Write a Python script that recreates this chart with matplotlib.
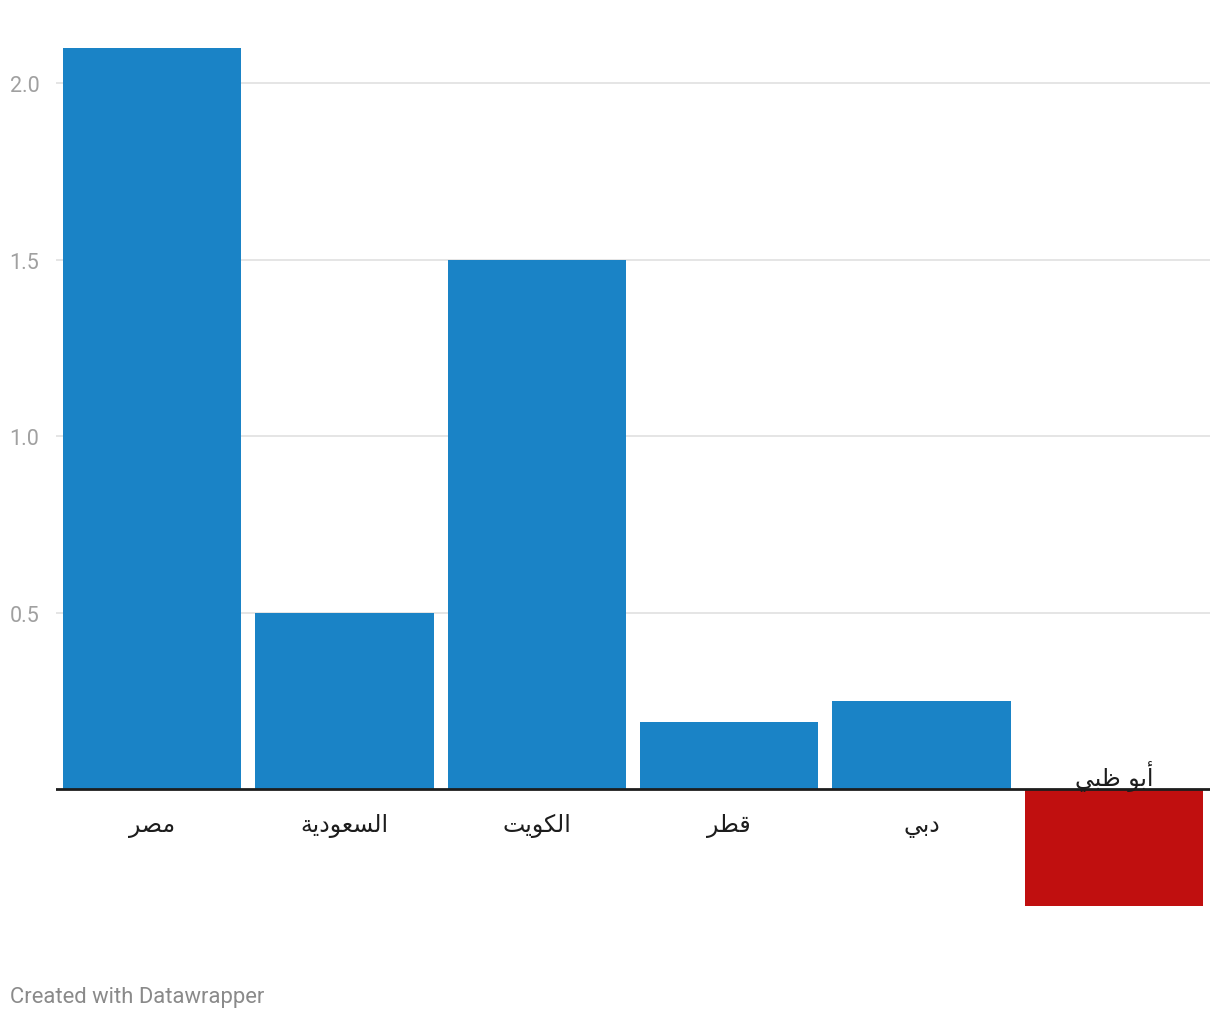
import matplotlib
matplotlib.use('Agg')
import matplotlib.pyplot as plt

plt.rcParams['font.family'] = ['Roboto', 'DejaVu Sans']

countries = ['مصر', 'السعودية', 'الكويت', 'قطر', 'دبي', 'أبو ظبي']
values = [2.1, 0.5, 1.5, 0.19, 0.25, -0.33]
yticks = [0.5, 1.0, 1.5, 2.0]

BLUE = '#1a83c6'
RED = '#c00f0f'

# arabic presentation forms: isolated, final, initial, medial
FORMS = {
    'ا': ('\uFE8D', '\uFE8E', None, None),
    'أ': ('\uFE83', '\uFE84', None, None),
    'ب': ('\uFE8F', '\uFE90', '\uFE91', '\uFE92'),
    'ة': ('\uFE93', '\uFE94', None, None),
    'ت': ('\uFE95', '\uFE96', '\uFE97', '\uFE98'),
    'د': ('\uFEA9', '\uFEAA', None, None),
    'ر': ('\uFEAD', '\uFEAE', None, None),
    'س': ('\uFEB1', '\uFEB2', '\uFEB3', '\uFEB4'),
    'ص': ('\uFEB9', '\uFEBA', '\uFEBB', '\uFEBC'),
    'ط': ('\uFEC1', '\uFEC2', '\uFEC3', '\uFEC4'),
    'ظ': ('\uFEC5', '\uFEC6', '\uFEC7', '\uFEC8'),
    'ع': ('\uFEC9', '\uFECA', '\uFECB', '\uFECC'),
    'ق': ('\uFED5', '\uFED6', '\uFED7', '\uFED8'),
    'ك': ('\uFED9', '\uFEDA', '\uFEDB', '\uFEDC'),
    'ل': ('\uFEDD', '\uFEDE', '\uFEDF', '\uFEE0'),
    'م': ('\uFEE1', '\uFEE2', '\uFEE3', '\uFEE4'),
    'و': ('\uFEED', '\uFEEE', None, None),
    'ي': ('\uFEF1', '\uFEF2', '\uFEF3', '\uFEF4'),
}


def shape(text):
    out = []
    for i, ch in enumerate(text):
        if ch not in FORMS:
            out.append(ch)
            continue
        prev = text[i - 1] if i > 0 else ''
        nxt = text[i + 1] if i + 1 < len(text) else ''
        join_prev = prev in FORMS and FORMS[prev][2] is not None
        join_next = FORMS[ch][2] is not None and nxt in FORMS
        iso, fin, ini, med = FORMS[ch]
        if join_prev and join_next:
            out.append(med)
        elif join_prev:
            out.append(fin)
        elif join_next:
            out.append(ini)
        else:
            out.append(iso)
    return ''.join(reversed(out))


fig = plt.figure(figsize=(12.2, 10.2), dpi=100)
# axes from x=56..1210 px, y=41..921 px
ax = fig.add_axes([56 / 1220, 99 / 1020, 1154 / 1220, 880 / 1020])

x = list(range(len(countries)))
colors = [BLUE if v >= 0 else RED for v in values]
ax.bar(x, values, width=0.927, color=colors, zorder=2)

ax.set_xlim(-0.5, len(countries) - 0.5)
ax.set_ylim(-0.371, 2.122)

for t in yticks:
    ax.axhline(t, color='#e0e0e0', linewidth=1.2, zorder=1)
ax.axhline(0, color='#1d1d1d', linewidth=2, zorder=3)

ax.set_yticks(yticks)
ax.set_yticklabels([f'{t:.1f}' for t in yticks])
ax.tick_params(axis='y', length=0, pad=12, labelsize=15.5, labelcolor='#a0a0a0')
ax.set_xticks([])
for s in ax.spines.values():
    s.set_visible(False)

for xi, name, v in zip(x, countries, values):
    if v >= 0:
        ax.annotate(shape(name), (xi, 0), xytext=(0, -36), textcoords='offset pixels',
                    ha='center', va='center', fontsize=17, color='#1d1d1d',
                    family=['DejaVu Sans'])
    else:
        ax.annotate(shape(name), (xi, 0), xytext=(0, 14), textcoords='offset pixels',
                    ha='center', va='center', fontsize=17, color='#1d1d1d',
                    family=['DejaVu Sans'], zorder=4)

fig.text(10 / 1220, 1 - 998 / 1020, 'Created with Datawrapper', ha='left', va='center',
         fontsize=15.8, color='#8a8a8a')

fig.savefig('out.png', dpi=100)
